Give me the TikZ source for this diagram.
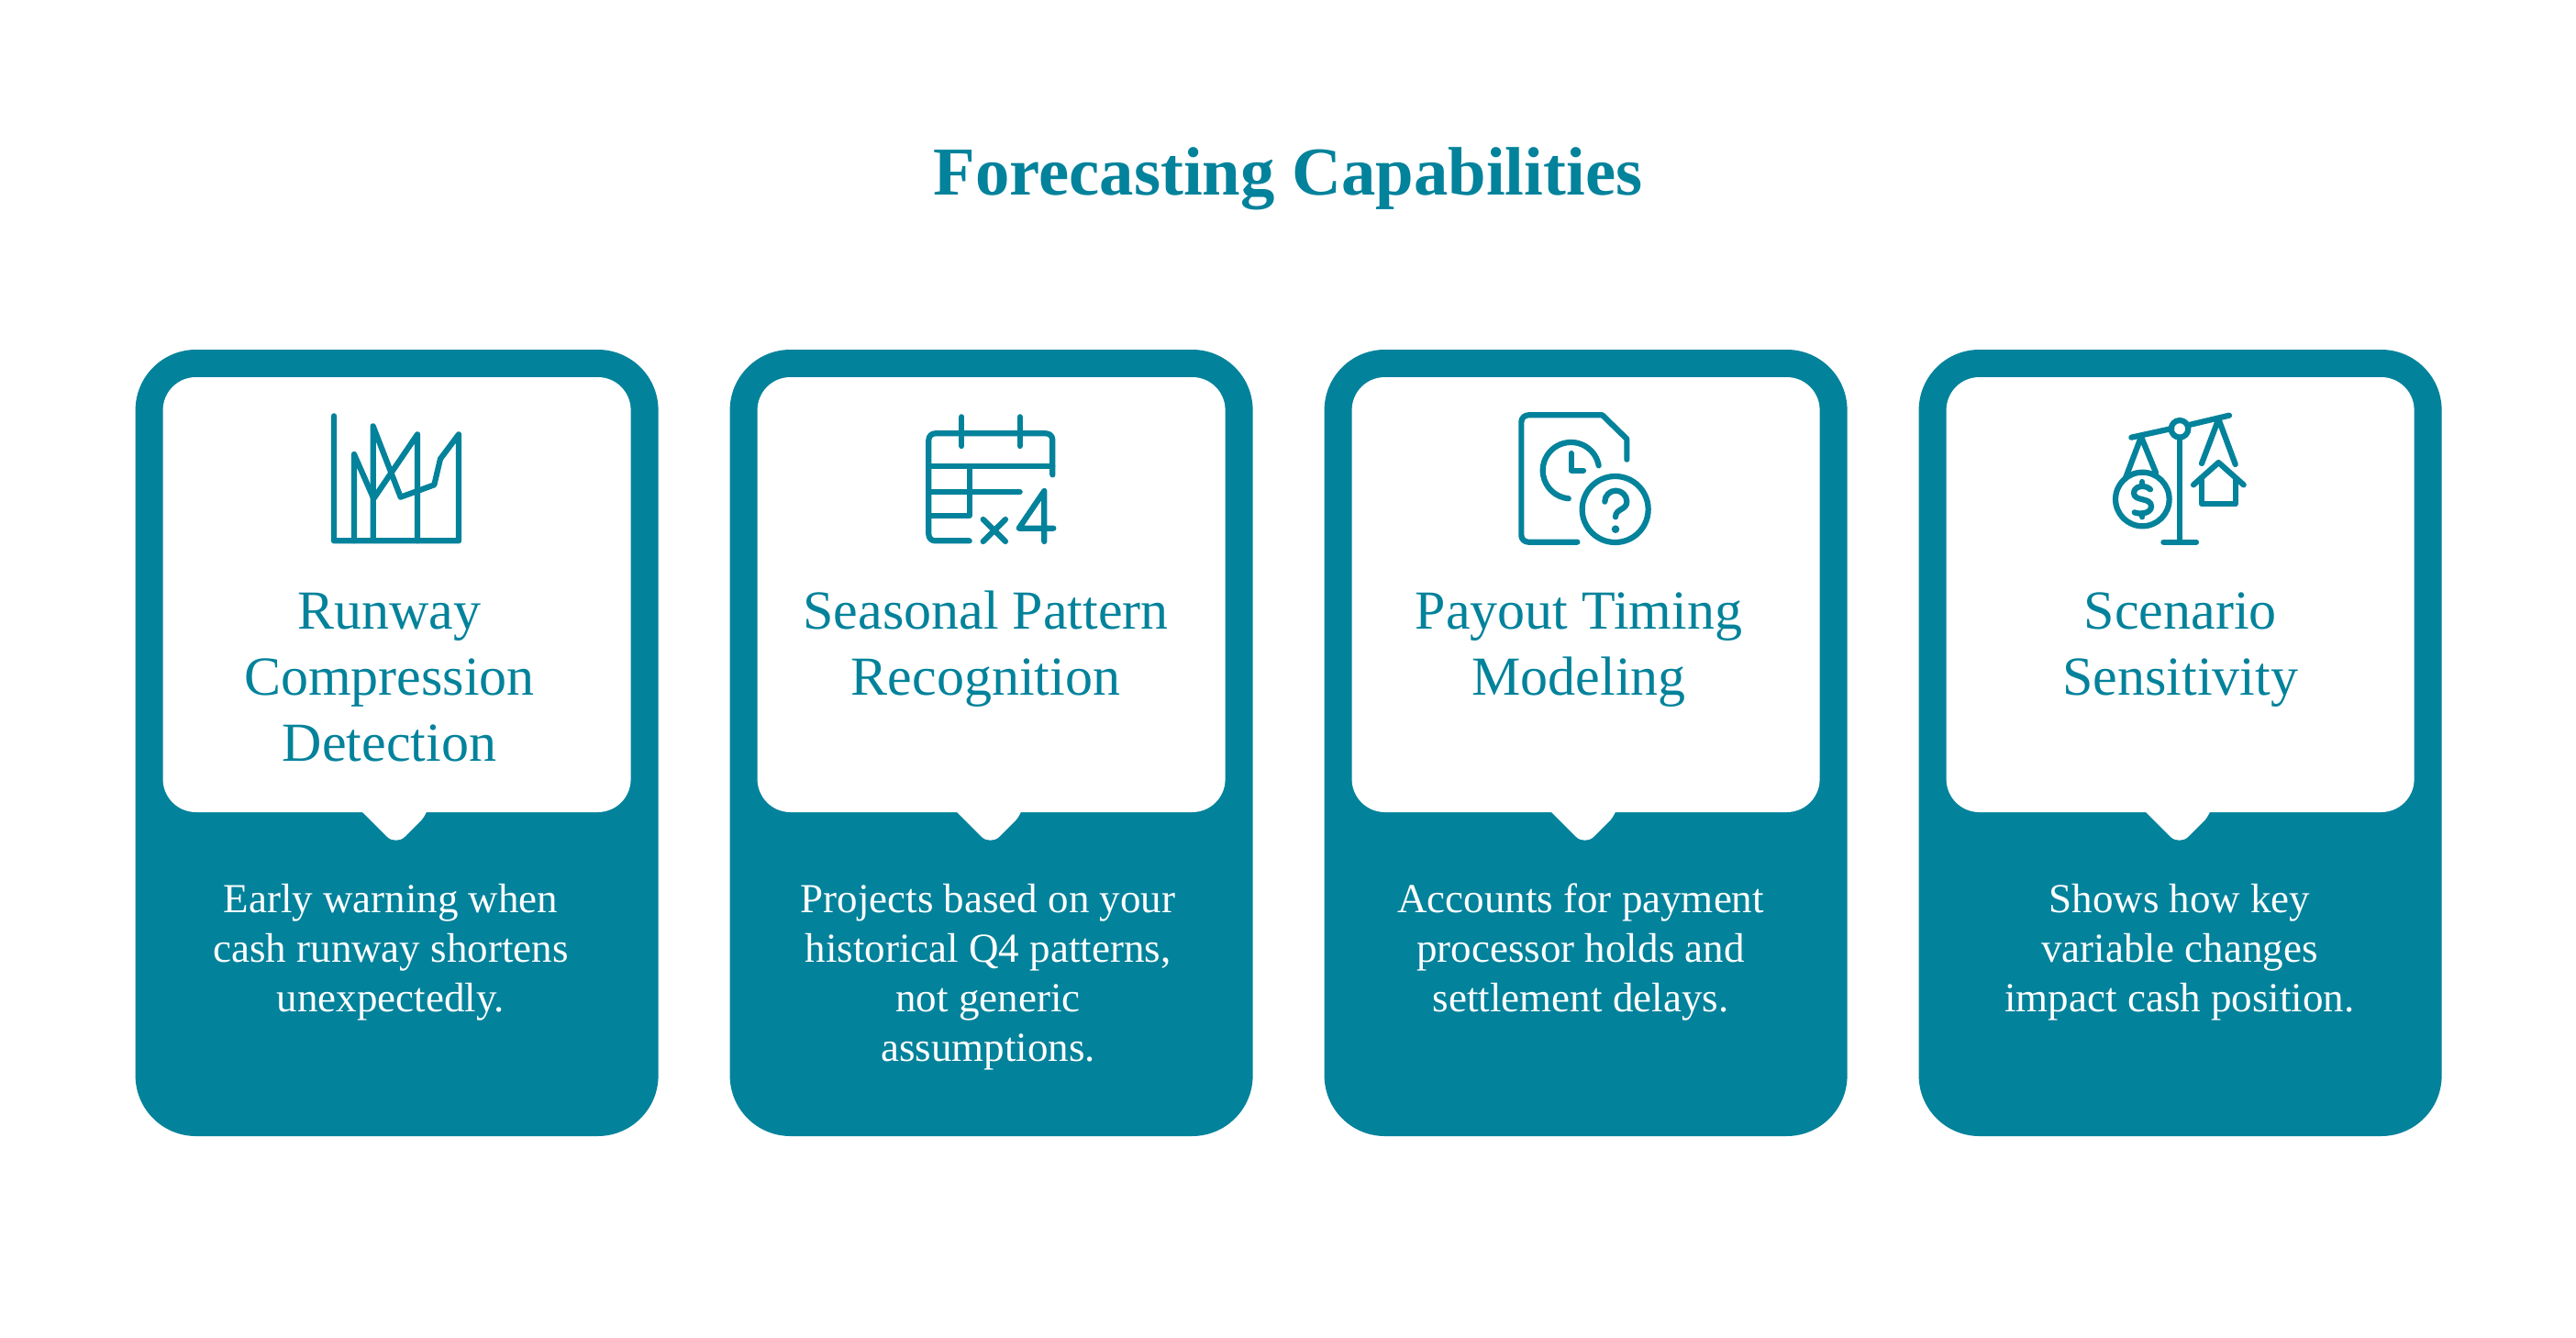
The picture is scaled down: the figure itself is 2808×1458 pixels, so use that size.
\documentclass[tikz,border=0pt]{standalone}
\usepackage{fontspec}
\setmainfont{Liberation Serif}
\definecolor{teal1}{HTML}{03829B}
\newcommand{\linestrut}{\vphantom{fldg}}
\tikzset{
  x=1pt,y=-1pt,
  titletext/.style={text=teal1,inner sep=0pt,anchor=base,font=\fontsize{74.7}{75}\selectfont\bfseries},
  headtext/.style={text=teal1,inner sep=0pt,anchor=north,align=center,font=\fontsize{60}{72}\selectfont},
  bodytext/.style={text=white,inner sep=0pt,anchor=north,align=center,font=\fontsize{45}{54}\selectfont},
  outercard/.style={fill=teal1,rounded corners=66pt},
  innercard/.style={fill=white,rounded corners=36pt},
  pointer/.style={fill=white},
  icon/.style={draw=teal1,line width=6.2pt,line cap=round,line join=round,x=0.33333pt,y=-0.33333pt},
  icondot/.style={fill=teal1,x=0.33333pt,y=-0.33333pt},
}
\newcommand{\cardshape}[1]{%
  \begin{scope}[shift={(#1,0)}]
    \path[outercard] (0,381) rectangle (570,1238);
    \path[innercard] (30,411) rectangle (540,885);
    \path[pointer] (247.4,884) -- (247.4,885) [rounded corners=14pt] -- (284,921.5) -- (320.6,885) [sharp corners] -- (320.6,884) -- cycle;
  \end{scope}}
\begin{document}
\begin{tikzpicture}
\useasboundingbox (0,0) rectangle (2808,1458);
\fill[white] (0,0) rectangle (2808,1458);
\node[titletext] (title) at (1404,213) {Forecasting Capabilities};
\cardshape{147.6}\cardshape{795.6}\cardshape{1443.6}\cardshape{2091.6}
\node[headtext] (h1) at (424.5,643) {\linestrut Runway\\Compression\\Detection};
\node[headtext] (h2) at (1074.6,643) {\linestrut Seasonal Pattern\\Recognition};
\node[headtext] (h3) at (1721,643) {\linestrut Payout Timing\\Modeling};
\node[headtext] (h4) at (2376.7,643) {\linestrut Scenario\\Sensitivity};
\node[bodytext] (b1) at (426,962.5) {\linestrut Early warning when\\cash runway shortens\\unexpectedly.};
\node[bodytext] (b2) at (1077,962.5) {\linestrut Projects based on your\\historical Q4 patterns,\\not generic\\assumptions.};
\node[bodytext] (b3) at (1723,962.5) {\linestrut Accounts for payment\\processor holds and\\settlement delays.};
\node[bodytext] (b4) at (2376,962.5) {\linestrut Shows how key\\variable changes\\impact cash position.};
% icon 1
\begin{scope}[shift={(320,430)}]
\draw[icon] (132,70) -- (132,478) -- (540,478) -- (540,130) -- (480,210) -- (460,295) -- (350,335) -- (260,103) -- (260,478);
\draw[icon] (198,478) -- (198,195) -- (262,340) -- (405,130) -- (405,478);
\end{scope}
% icon 2
\begin{scope}[shift={(960,430)}]
\draw[icon,rounded corners=7pt] (290,478) -- (157,478) -- (157,127) -- (562,127) -- (562,262);
\draw[icon] (157,235) -- (562,235);
\draw[icon] (290,235) -- (290,395) -- (157,395);
\draw[icon] (157,318) -- (455,318);
\draw[icon] (265,73) -- (265,168);
\draw[icon] (455,73) -- (455,168);
\draw[icon] (335,408) -- (408,480);
\draw[icon] (408,408) -- (335,480);
\draw[icon] (535,480) -- (535,315) -- (452,437) -- (565,437);
\end{scope}
% icon 3
\begin{scope}[shift={(1620,430)}]
\draw[icon] (298,482) -- (138,482) to[out=180,in=-90] (115,460) -- (115,90) to[out=90,in=180] (138,67) -- (380,67) -- (460,145) -- (460,212);
\draw[icon] (368,232) arc[start angle=10,end angle=265,radius=30.7pt];
\draw[icon] (278,192) -- (278,248) -- (318,248);
\draw[icon] (422,375) circle[radius=36pt];
\draw[icon] (388,350) arc[start angle=180,end angle=0,radius=12pt] .. controls (460,378) and (423,372) .. (423,400);
\fill[icondot] (423,440) circle[radius=4.3pt];
\end{scope}
% icon 4
\begin{scope}[shift={(2260,430)}]
\draw[icon] (190,140) -- (322,111);
\draw[icon] (375,100) -- (510,68);
\draw[icon] (348,112) circle[radius=9.3pt];
\draw[icon] (348,140) -- (348,482);
\draw[icon] (295,482) -- (402,482);
\draw[icon] (170,275) -- (222,138) -- (270,255);
\draw[icon] (226,342) circle[radius=29.3pt];
\draw[icon] (252,310) .. controls (235,293) and (198,298) .. (198,322) .. controls (198,350) and (255,335) .. (255,365) .. controls (255,390) and (215,392) .. (200,385);
\draw[icon] (226,285) -- (226,298);
\draw[icon] (226,388) -- (226,400);
\draw[icon] (420,225) -- (475,80) -- (530,228);
\draw[icon] (393,295) -- (475,222) -- (557,295);
\draw[icon] (420,272) -- (420,358) -- (530,358) -- (530,272);
\end{scope}
\end{tikzpicture}
\end{document}
